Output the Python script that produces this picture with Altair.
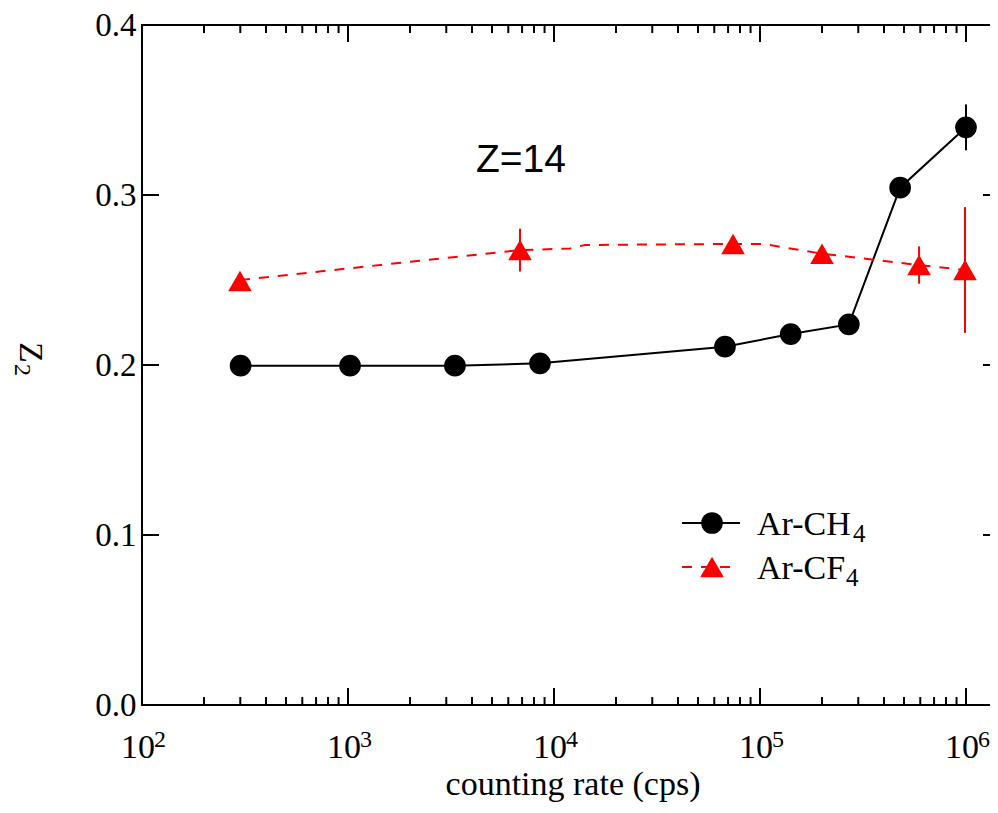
import altair as alt
import pandas as pd

# ---- data ----
ch4_x = [301, 1023, 3304, 8550, 67600, 141000, 270000, 479000, 1000000]
ch4_y = [0.1996, 0.1996, 0.1996, 0.2010, 0.2108, 0.2182, 0.2239, 0.3043, 0.3398]
ch4_err = [0, 0, 0, 0, 0, 0, 0, 0, 0.0135]

cf4_x = [299, 6840, 74000, 200000, 592000, 989000]
cf4_y = [0.2494, 0.2676, 0.2712, 0.2655, 0.2588, 0.2559]
cf4_err = [0, 0.0126, 0, 0, 0.011, 0.037]

cf4_line_x = [299, 6840, 11970, 14130, 74000, 103500, 200000, 592000, 989000]
cf4_line_y = [0.2500, 0.2676, 0.2685, 0.2706, 0.2712, 0.2712, 0.2655, 0.2588, 0.2559]

x_major = [100, 1000, 10000, 100000, 1000000]
x_exp = ["2", "3", "4", "5", "6"]
x_minor = [m * 10 ** d for d in range(2, 6) for m in range(2, 10)]
y_major = [0.0, 0.1, 0.2, 0.3, 0.4]

W, H = 848, 680
SERIF = "Liberation Serif"

ch4 = pd.DataFrame({"x": ch4_x, "y": ch4_y,
                    "lo": [v - e for v, e in zip(ch4_y, ch4_err)],
                    "hi": [v + e for v, e in zip(ch4_y, ch4_err)]})
cf4 = pd.DataFrame({"x": cf4_x, "y": cf4_y,
                    "lo": [v - e for v, e in zip(cf4_y, cf4_err)],
                    "hi": [v + e for v, e in zip(cf4_y, cf4_err)]})
cf4_line = pd.DataFrame({"x": cf4_line_x, "y": cf4_line_y})
xmaj_df = pd.DataFrame({"x": x_major, "e": x_exp})
xmin_df = pd.DataFrame({"x": x_minor})
ymaj_df = pd.DataFrame({"y": y_major})
one = pd.DataFrame({"k": [0]})

xs = alt.Scale(type="log", domain=[100, 1.308e6], nice=False)
ys = alt.Scale(domain=[0, 0.4], nice=False)
yaxis = alt.Axis(values=y_major, format=".1f", labelFont=SERIF, labelFontSize=33,
                 labelColor="black", labelPadding=6, ticks=False, tickSize=0,
                 domain=False, grid=False, title=None, labelFlush=False)

X = alt.X("x:Q", scale=xs, axis=None)
Y = alt.Y("y:Q", scale=ys, axis=yaxis)

tick = dict(color="black", strokeWidth=2)
layers = []
# frame (left, top, bottom; the right side lies past the picture's edge)
layers.append(alt.Chart(one).mark_rule(**tick).encode(x=alt.value(0), y=alt.value(-1), y2=alt.value(H + 1)))
layers.append(alt.Chart(one).mark_rule(**tick).encode(x=alt.value(-1), x2=alt.value(W), y=alt.value(0)))
layers.append(alt.Chart(one).mark_rule(**tick).encode(x=alt.value(-1), x2=alt.value(W), y=alt.value(H)))
# x ticks (inward), bottom and top
layers.append(alt.Chart(xmaj_df).mark_rule(**tick).encode(x=X, y=alt.value(H), y2=alt.value(H - 17)))
layers.append(alt.Chart(xmaj_df).mark_rule(**tick).encode(x=X, y=alt.value(0), y2=alt.value(17)))
layers.append(alt.Chart(xmin_df).mark_rule(**tick).encode(x=X, y=alt.value(H), y2=alt.value(H - 8)))
layers.append(alt.Chart(xmin_df).mark_rule(**tick).encode(x=X, y=alt.value(0), y2=alt.value(8)))
# y ticks (inward), left and right
layers.append(alt.Chart(ymaj_df).mark_rule(**tick).encode(y=Y, x=alt.value(0), x2=alt.value(17)))
layers.append(alt.Chart(ymaj_df).mark_rule(**tick).encode(y=Y, x=alt.value(W), x2=alt.value(W - 7)))

# x tick labels 10^n
layers.append(alt.Chart(xmaj_df).mark_text(text="10", font=SERIF, fontSize=34, align="center",
                                            baseline="alphabetic", dx=-4, color="black")
              .encode(x=X, y=alt.value(733)))
layers.append(alt.Chart(xmaj_df).mark_text(font=SERIF, fontSize=24, align="left",
                                            baseline="alphabetic", dx=12, color="black")
              .encode(x=X, y=alt.value(722), text="e:N"))

# data
layers.append(alt.Chart(ch4).mark_line(color="black", strokeWidth=2).encode(x=X, y=Y))
layers.append(alt.Chart(cf4_line).mark_line(color="red", strokeWidth=2, strokeDash=[10, 9]).encode(x=X, y=Y))
layers.append(alt.Chart(ch4).mark_rule(color="black", strokeWidth=2).encode(
    x=X, y=alt.Y("lo:Q", scale=ys, axis=yaxis), y2="hi:Q"))
layers.append(alt.Chart(cf4).mark_rule(color="red", strokeWidth=2).encode(
    x=X, y=alt.Y("lo:Q", scale=ys, axis=yaxis), y2="hi:Q"))
layers.append(alt.Chart(ch4).mark_point(filled=True, shape="circle", size=470, color="black", opacity=1)
              .encode(x=X, y=Y))
layers.append(alt.Chart(cf4).mark_point(filled=True, shape="triangle-up", size=560, color="red", opacity=1)
              .encode(x=X, y=Y))

# annotation and titles
layers.append(alt.Chart(one).mark_text(text="Z=14", font="Liberation Sans", fontSize=39, align="left",
                                        baseline="alphabetic", color="black")
              .encode(x=alt.value(334), y=alt.value(147)))
layers.append(alt.Chart(one).mark_text(text="counting rate (cps)", font=SERIF, fontSize=34, align="center",
                                        baseline="alphabetic", color="black")
              .encode(x=alt.value(431), y=alt.value(770)))
layers.append(alt.Chart(one).mark_text(text="Z", font=SERIF, fontSize=34, align="left", angle=90,
                                        baseline="alphabetic", color="black")
              .encode(x=alt.value(-122), y=alt.value(317)))
layers.append(alt.Chart(one).mark_text(text="2", font=SERIF, fontSize=24, align="left", angle=90,
                                        baseline="alphabetic", color="black")
              .encode(x=alt.value(-127), y=alt.value(339)))

# legend
layers.append(alt.Chart(one).mark_rule(color="black", strokeWidth=2)
              .encode(x=alt.value(540), x2=alt.value(598), y=alt.value(498)))
layers.append(alt.Chart(one).mark_point(filled=True, shape="circle", size=470, color="black", opacity=1)
              .encode(x=alt.value(570), y=alt.value(498)))
layers.append(alt.Chart(one).mark_rule(color="red", strokeWidth=2, strokeDash=[10, 9])
              .encode(x=alt.value(540), x2=alt.value(592), y=alt.value(542)))
layers.append(alt.Chart(one).mark_point(filled=True, shape="triangle-up", size=560, color="red", opacity=1)
              .encode(x=alt.value(570), y=alt.value(542)))
layers.append(alt.Chart(one).mark_text(text="Ar-CH", font=SERIF, fontSize=34, align="left",
                                        baseline="alphabetic", color="black")
              .encode(x=alt.value(615), y=alt.value(510)))
layers.append(alt.Chart(one).mark_text(text="4", font=SERIF, fontSize=25, align="left",
                                        baseline="alphabetic", color="black")
              .encode(x=alt.value(711), y=alt.value(517)))
layers.append(alt.Chart(one).mark_text(text="Ar-CF", font=SERIF, fontSize=34, align="left",
                                        baseline="alphabetic", color="black")
              .encode(x=alt.value(615), y=alt.value(554)))
layers.append(alt.Chart(one).mark_text(text="4", font=SERIF, fontSize=25, align="left",
                                        baseline="alphabetic", color="black")
              .encode(x=alt.value(704), y=alt.value(561)))

chart = alt.layer(*layers).properties(
    width=W, height=H,
    autosize=alt.AutoSizeParams(type="none"),
    padding={"left": 134, "top": 17, "right": 0, "bottom": 100},
    background="white",
).configure_view(stroke=None)

chart.save("out.html", embed_options={"renderer": "svg", "actions": False})
